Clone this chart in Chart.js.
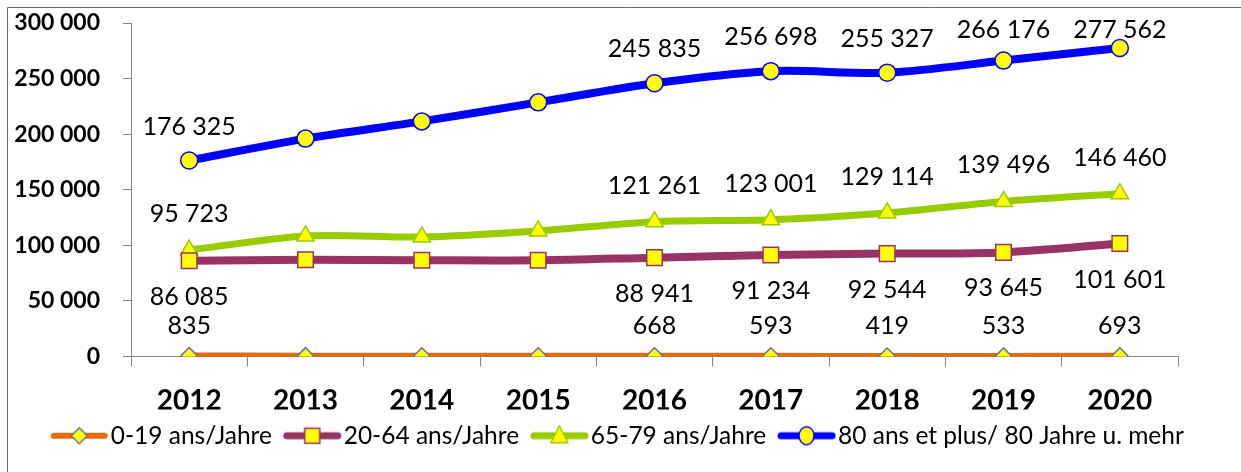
<!DOCTYPE html>
<html>
<head>
<meta charset="utf-8">
<script src="https://cdn.jsdelivr.net/npm/chart.js@4"></script>
<style>
  html, body { margin: 0; padding: 0; background: #fff; }
  #wrap { width: 1241px; height: 472px; position: relative; }
</style>
</head>
<body>
<div id="wrap"><canvas id="chart" width="1241" height="472"></canvas></div>
<script>
// data
const years = ['2012', '2013', '2014', '2015', '2016', '2017', '2018', '2019', '2020'];
const age0to19 = [835, 760, 720, 690, 668, 593, 419, 533, 693];
const age20to64 = [86085, 87000, 86600, 86500, 88941, 91234, 92544, 93645, 101601];
const age65to79 = [95723, 108500, 107500, 113000, 121261, 123001, 129114, 139496, 146460];
const age80plus = [176325, 196000, 211500, 228600, 245835, 256698, 255327, 266176, 277562];
const labelledYears = ['2012', '2016', '2017', '2018', '2019', '2020'];
const seriesNames = ['0-19 ans/Jahre', '20-64 ans/Jahre', '65-79 ans/Jahre', '80 ans et plus/ 80 Jahre u. mehr'];

const FONT = 'Lato, "Open Sans", sans-serif';

function fmt(n) {
    return n.toString().replace(/\B(?=(\d{3})+(?!\d))/g, ' ');
}

// small legend icon: line with the marker in the middle
function legendIcon(color, lineW, shape, border) {
    const c = document.createElement('canvas');
    c.width = 61; c.height = 22;
    const g = c.getContext('2d');
    const cx = 30.5, cy = 11;
    g.strokeStyle = color;
    g.lineWidth = lineW;
    g.lineCap = 'round';
    g.beginPath(); g.moveTo(5, cy); g.lineTo(56, cy); g.stroke();
    g.fillStyle = '#ffff00';
    g.strokeStyle = border;
    g.lineWidth = 1.5;
    g.beginPath();
    if (shape === 'diamond') {
        g.moveTo(cx, cy - 8); g.lineTo(cx + 8, cy); g.lineTo(cx, cy + 8); g.lineTo(cx - 8, cy); g.closePath();
    } else if (shape === 'square') {
        g.rect(cx - 7.5, cy - 7.5, 15, 15);
    } else if (shape === 'triangle') {
        g.moveTo(cx, cy - 10); g.lineTo(cx + 8.5, cy + 7); g.lineTo(cx - 8.5, cy + 7); g.closePath();
    } else {
        g.ellipse(cx, cy, 7.5, 9, 0, 0, Math.PI * 2);
    }
    g.fill(); g.stroke();
    return c;
}

const icons = [
    legendIcon('#e46c0a', 6, 'diamond', '#6a6aa8'),
    legendIcon('#993366', 7, 'square', '#993366'),
    legendIcon('#99cc00', 7, 'triangle', '#99cc00'),
    legendIcon('#0000ff', 7, 'circle', '#0000ff')
];

const frame = {
    id: 'frame',
    afterLayout(chart) {
        // legend in the original starts a bit in from the frame and runs past the plot
        chart.legend.left = 39;
        chart.legend.right = 1241;
        chart.legend.top -= 7;
    },
    beforeDraw(chart) {
        const ctx = chart.ctx;
        ctx.save();
        ctx.strokeStyle = '#6b6b6b';
        ctx.lineWidth = 1;
        ctx.beginPath();
        ctx.moveTo(7.5, 472);
        ctx.lineTo(7.5, 7.5);
        ctx.lineTo(1241, 7.5);
        ctx.stroke();
        ctx.restore();
    }
};

// value labels: above for 65-79 and 80+, below for 20-64, above for 0-19
const valueLabels = {
    id: 'valueLabels',
    afterDatasetsDraw(chart) {
        const ctx = chart.ctx;
        ctx.save();
        ctx.font = '25px ' + FONT;
        ctx.fillStyle = '#000';
        ctx.textAlign = 'center';
        ctx.textBaseline = 'middle';
        chart.data.datasets.forEach((ds, di) => {
            const meta = chart.getDatasetMeta(di);
            meta.data.forEach((pt, i) => {
                if (!labelledYears.includes(years[i])) return;
                let y = pt.y + ds.labelOffset;
                if (y < 30) y = 30;
                ctx.fillText(fmt(ds.data[i]), pt.x, y);
            });
        });
        ctx.restore();
    }
};

const ctx = document.getElementById('chart').getContext('2d');
new Chart(ctx, {
    type: 'line',
    data: {
        labels: years,
        datasets: [
            {
                label: seriesNames[0],
                data: age0to19,
                borderColor: '#e46c0a',
                borderWidth: 6,
                pointStyle: 'rectRot',
                pointRadius: 8,
                pointBackgroundColor: '#ffff00',
                pointBorderColor: '#6a6aa8',
                pointBorderWidth: 1.5,
                labelOffset: -30,
                icon: icons[0]
            },
            {
                label: seriesNames[1],
                data: age20to64,
                borderColor: '#993366',
                borderWidth: 8,
                pointStyle: 'rect',
                pointRadius: 11,
                pointBackgroundColor: '#ffff00',
                pointBorderColor: '#993366',
                pointBorderWidth: 1.5,
                labelOffset: 36,
                icon: icons[1]
            },
            {
                label: seriesNames[2],
                data: age65to79,
                borderColor: '#99cc00',
                borderWidth: 7,
                pointStyle: 'triangle',
                pointRadius: 10,
                pointBackgroundColor: '#ffff00',
                pointBorderColor: '#99cc00',
                pointBorderWidth: 1.5,
                labelOffset: -36,
                icon: icons[2]
            },
            {
                label: seriesNames[3],
                data: age80plus,
                borderColor: '#0000ff',
                borderWidth: 8,
                pointStyle: 'circle',
                pointRadius: 8.5,
                pointBackgroundColor: '#ffff00',
                pointBorderColor: '#0000ff',
                pointBorderWidth: 1.5,
                labelOffset: -34,
                icon: icons[3]
            }
        ]
    },
    options: {
        responsive: false,
        animation: false,
        events: [],
        elements: {
            line: { tension: 0.3, cubicInterpolationMode: 'default' }
        },
        layout: {
            autoPadding: false,
            padding: { left: 0, right: 63, top: 23, bottom: 7 }
        },
        scales: {
            x: {
                offset: true,
                grid: {
                    offset: true,
                    drawOnChartArea: false,
                    drawTicks: true,
                    tickLength: 10,
                    color: '#868686'
                },
                border: { color: '#868686', width: 1 },
                ticks: {
                    padding: 18,
                    color: '#000',
                    font: { family: FONT, size: 28, weight: 'bold' }
                },
                afterFit(scale) { scale.height = 53; }
            },
            y: {
                min: 0,
                max: 300000,
                grid: {
                    drawOnChartArea: false,
                    drawTicks: true,
                    tickLength: 8,
                    color: '#868686'
                },
                border: { color: '#868686', width: 1 },
                ticks: {
                    stepSize: 50000,
                    padding: 23,
                    color: '#000',
                    font: { family: FONT, size: 23, weight: 'bold' },
                    callback: v => fmt(v)
                },
                afterFit(scale) {
                    scale.width = 131;
                    scale.paddingTop = 14;
                    scale.paddingBottom = 14;
                }
            }
        },
        plugins: {
            tooltip: { enabled: false },
            legend: {
                position: 'bottom',
                align: 'start',
                labels: {
                    usePointStyle: true,
                    pointStyleWidth: 38.5,
                    padding: 21,
                    color: '#000',
                    font: { family: FONT, size: 24.5 },
                    generateLabels(chart) {
                        return chart.data.datasets.map((ds, i) => ({
                            text: ds.label,
                            pointStyle: ds.icon,
                            fillStyle: '#ffff00',
                            strokeStyle: ds.borderColor,
                            lineWidth: 0,
                            hidden: false,
                            datasetIndex: i
                        }));
                    }
                }
            }
        }
    },
    plugins: [frame, valueLabels]
});
</script>
</body>
</html>
